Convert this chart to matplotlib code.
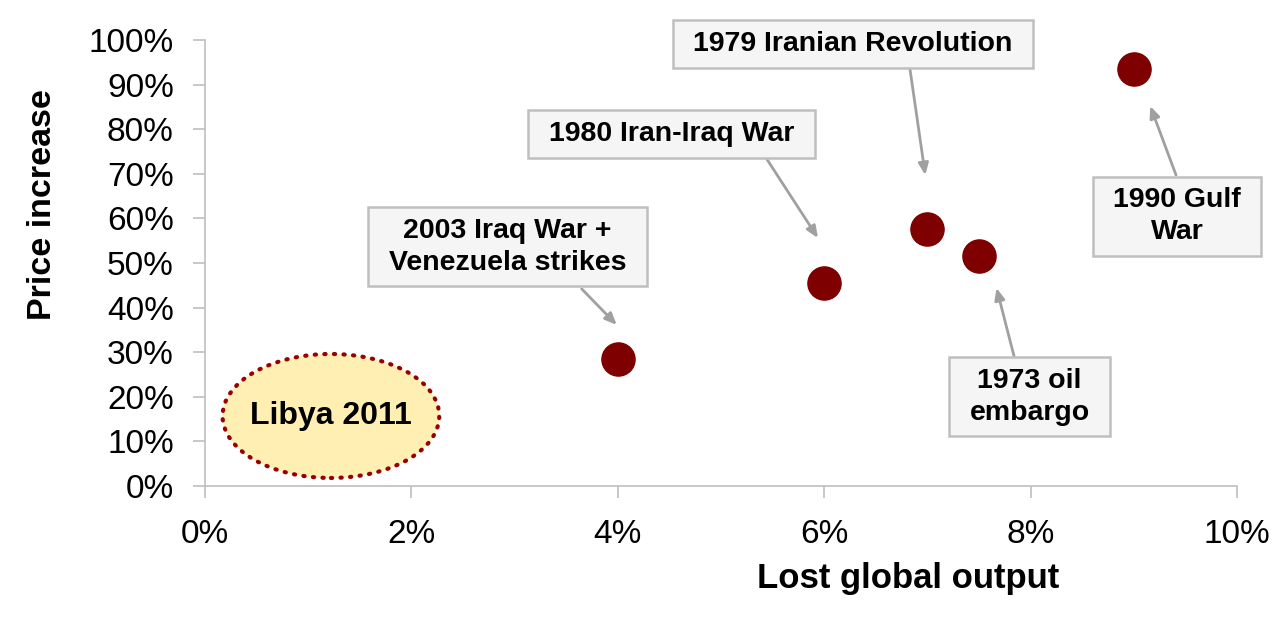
import matplotlib.pyplot as plt
from matplotlib.patches import Ellipse
from matplotlib.ticker import FuncFormatter, MultipleLocator

plt.rcParams['font.family'] = ['Liberation Sans', 'DejaVu Sans']

# lost global output (%) and price increase (%)
lost_output = [4.0, 6.0, 7.0, 7.5, 9.0]
price_increase = [28.5, 45.5, 57.6, 51.6, 93.5]

event_labels = ['2003 Iraq War +\nVenezuela strikes', '1980 Iran-Iraq War',
                '1979 Iranian Revolution', '1973 oil\nembargo', '1990 Gulf\nWar']
# label box centres and arrow tail/head (data units)
label_pos = [(2.93, 53.6), (4.52, 78.9), (6.28, 99.1), (7.99, 20.0), (9.42, 60.5)]
arrow_tail = [(3.65, 44.2), (5.43, 73.8), (6.83, 93.7), (7.84, 29.1), (9.41, 69.7)]
arrow_head = [(3.99, 36.1), (5.94, 55.6), (6.98, 69.7), (7.67, 44.4), (9.16, 85.2)]

libya_label = 'Libya 2011'
libya_center = (1.22, 15.7)
libya_size = (2.10, 27.8)

axis_grey = '#BFBFBF'
dot_red = '#7F0000'

fig = plt.figure(figsize=(12.87, 6.18), dpi=100)
ax = fig.add_axes([0.1593, 0.2136, 0.8018, 0.7217])

ax.scatter(lost_output, price_increase, s=570, color=dot_red, zorder=3)

for lab, (tx, ty), tail, head in zip(event_labels, label_pos, arrow_tail, arrow_head):
    ax.text(tx, ty, lab, ha='center', va='center', fontsize=20.5, fontweight='bold',
            linespacing=1.28, zorder=4,
            bbox=dict(boxstyle='square,pad=0.72', mutation_aspect=0.52,
                      facecolor='#F5F5F5', edgecolor='#BFBFBF', linewidth=1.8))
    ax.annotate('', xy=head, xytext=tail,
                arrowprops=dict(arrowstyle='-|>,head_length=0.7,head_width=0.3',
                                color='#A0A0A0', lw=2, shrinkA=0, shrinkB=0))

# Libya 2011 highlight
ell = Ellipse(libya_center, libya_size[0], libya_size[1], facecolor='#FFEFB3',
              edgecolor='#990000', linewidth=3, linestyle=(0, (0.3, 2.0)),
              capstyle='round', zorder=2)
ax.add_patch(ell)
ax.text(libya_center[0], libya_center[1], libya_label, ha='center', va='center',
        fontsize=23, fontweight='bold', zorder=3)

ax.set_xlim(0, 10)
ax.set_ylim(0, 100)
ax.xaxis.set_major_locator(MultipleLocator(2))
ax.yaxis.set_major_locator(MultipleLocator(10))
ax.xaxis.set_major_formatter(FuncFormatter(lambda v, p: f'{v:.0f}%'))
ax.yaxis.set_major_formatter(FuncFormatter(lambda v, p: f'{v:.0f}%'))
ax.tick_params(axis='both', labelsize=24, color=axis_grey, length=8.5, width=1.2)
ax.tick_params(axis='x', pad=15)
ax.tick_params(axis='y', pad=14)

for side in ['top', 'right']:
    ax.spines[side].set_visible(False)
for side in ['left', 'bottom']:
    ax.spines[side].set_color(axis_grey)
    ax.spines[side].set_linewidth(1.2)

ax.set_xlabel('Lost global output', fontsize=25, fontweight='bold')
ax.set_ylabel('Price increase', fontsize=24.5, fontweight='bold')
ax.xaxis.set_label_coords(0.681, -0.17)
ax.yaxis.set_label_coords(-0.142, 0.63)

fig.savefig('out.png', dpi=100)
